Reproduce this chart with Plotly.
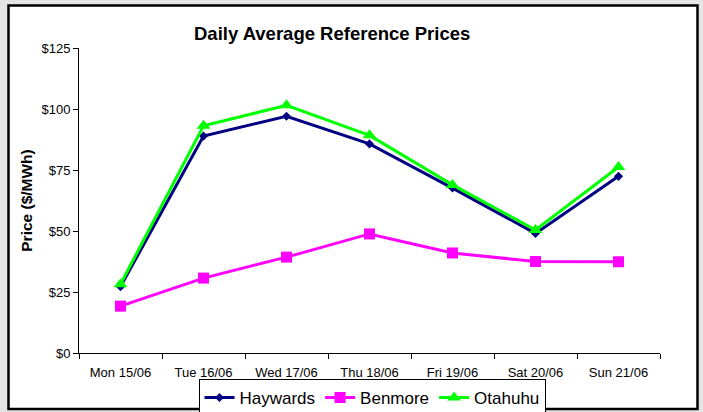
import plotly.graph_objects as go

days = ["Mon 15/06", "Tue 16/06", "Wed 17/06", "Thu 18/06", "Fri 19/06", "Sat 20/06", "Sun 21/06"]
haywards = [27.2, 88.9, 97.0, 85.7, 67.6, 49.0, 72.4]
benmore = [19.2, 30.7, 39.3, 48.8, 41.0, 37.5, 37.4]
otahuhu = [28.2, 93.1, 101.5, 89.2, 68.9, 50.4, 76.2]
y_ticks = [0, 25, 50, 75, 100, 125]
y_labels = ["$0", "$25", "$50", "$75", "$100", "$125"]

W, H = 703, 412
L, R, T, B = 79, 43, 48, 59
pw, ph = W - L - R, H - T - B

def px(x):
    return (x - L) / pw

def py(y):
    return (H - B - y) / ph

fig = go.Figure()
fig.add_trace(go.Scatter(x=days, y=haywards, name="Haywards", mode="lines+markers",
                         line=dict(color="#000080", width=3),
                         marker=dict(symbol="diamond", size=7, color="#000080")))
fig.add_trace(go.Scatter(x=days, y=benmore, name="Benmore", mode="lines+markers",
                         line=dict(color="#ff00ff", width=3),
                         marker=dict(symbol="square", size=11, color="#ff00ff")))
fig.add_trace(go.Scatter(x=days, y=otahuhu, name="Otahuhu", mode="lines+markers",
                         line=dict(color="#00ff00", width=3),
                         marker=dict(symbol="triangle-up", size=12, color="#00ff00")))

fig.add_shape(type="rect", xref="paper", yref="paper",
              x0=px(8.5), x1=px(697.5), y0=py(409), y1=py(5.5),
              fillcolor="white", line=dict(color="black", width=2.5), layer="below")

fig.update_layout(
    width=W, height=H,
    margin=dict(l=L, r=R, t=T, b=B, autoexpand=False),
    paper_bgcolor="#e4e4e4",
    plot_bgcolor="white",
    font=dict(family="Liberation Sans, Arial, sans-serif", color="black", size=13),
    title=dict(text="<b>Daily Average Reference Prices</b>", x=px(353.5), xanchor="center",
               y=1 - 34 / H, yanchor="middle", font=dict(size=18.5, color="black")),
    showlegend=True,
    legend=dict(orientation="h", x=px(372), xanchor="center", y=py(379), yanchor="top",
                bordercolor="black", borderwidth=1, bgcolor="white",
                font=dict(size=17), tracegroupgap=0),
    xaxis=dict(type="category", showline=True, linecolor="black", linewidth=1,
               ticks="outside", ticklen=5, tickcolor="black", tickson="boundaries",
               showgrid=False, zeroline=False, tickfont=dict(size=13),
               ticklabelstandoff=7, range=[-0.5, 6.5]),
    yaxis=dict(range=[0, 125], tickvals=y_ticks, ticktext=y_labels,
               showline=True, linecolor="black", linewidth=1,
               ticks="outside", ticklen=5, tickcolor="black",
               showgrid=False, zeroline=False, tickfont=dict(size=13),
               title=dict(text="<b>Price ($/MWh)</b>", font=dict(size=15.5), standoff=5)),
)

fig.write_html("out.html", config={"displayModeBar": False},
               post_script="document.body.style.margin='0';document.body.style.background='#e4e4e4';")
